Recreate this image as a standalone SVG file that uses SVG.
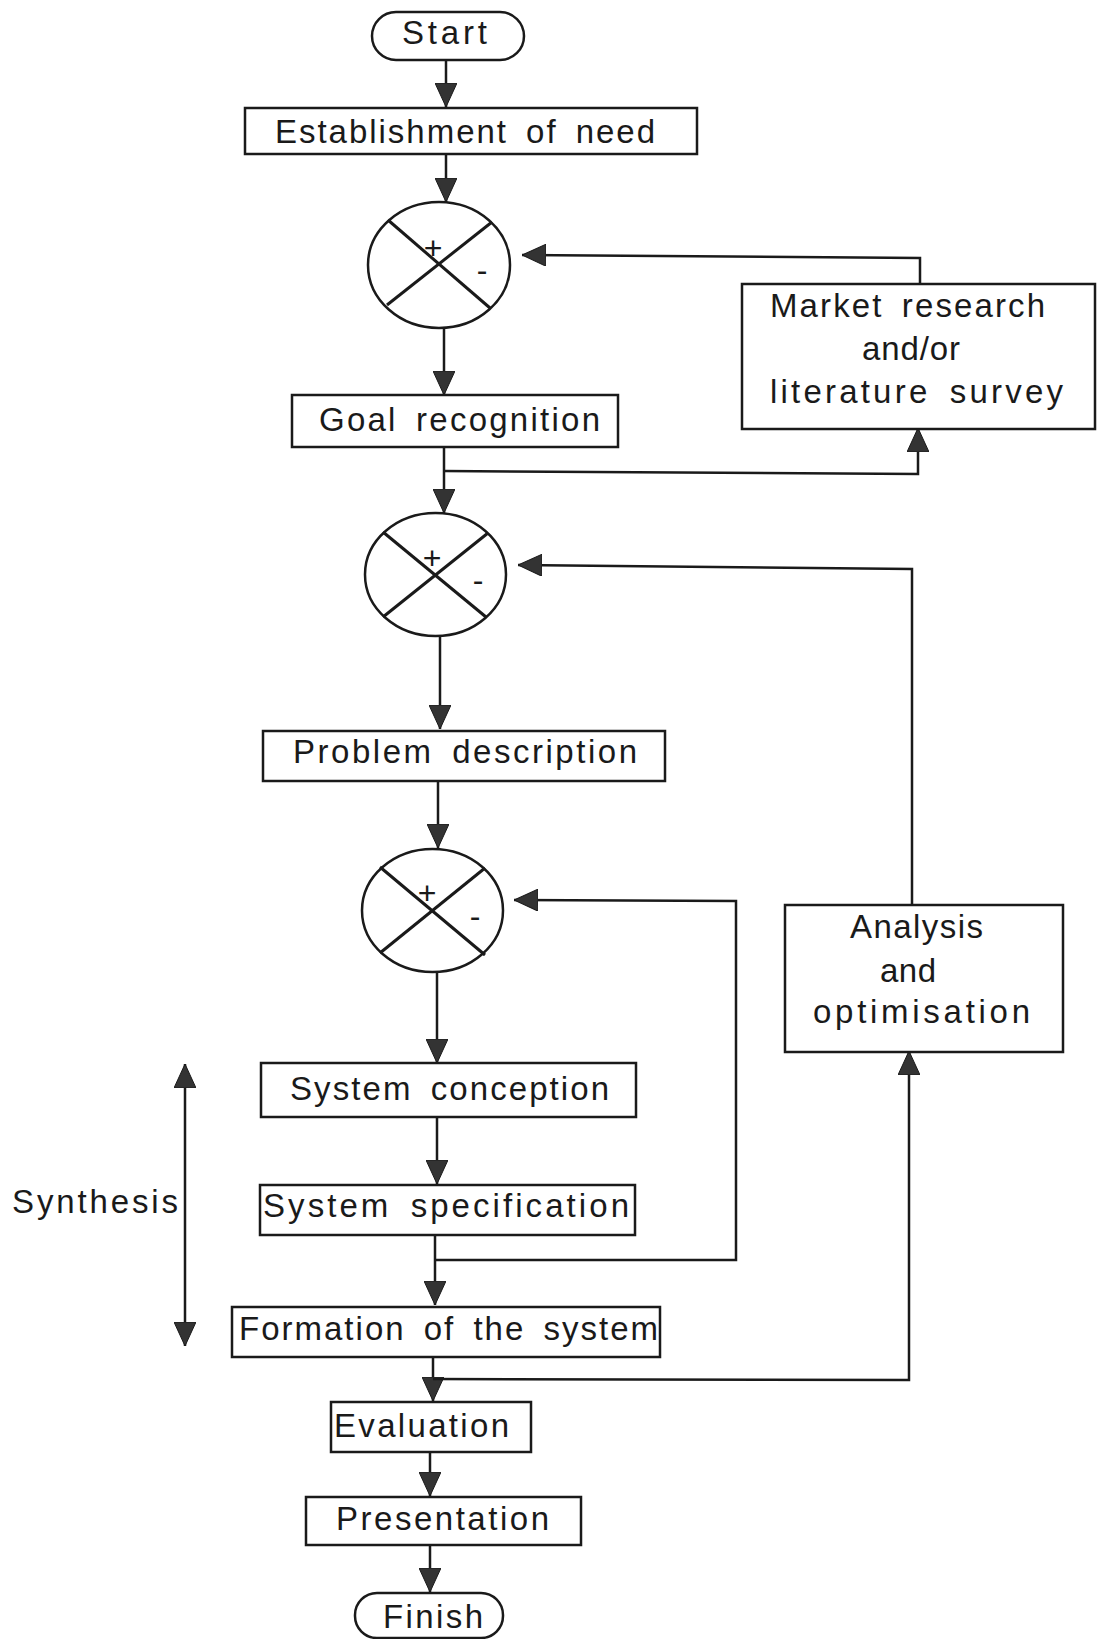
<svg xmlns="http://www.w3.org/2000/svg" width="1097" height="1639" viewBox="0 0 1097 1639">
  <defs>
    <style>
      .box { fill: #ffffff; stroke: #1a1a1a; stroke-width: 2.5; }
      .sum { fill: #ffffff; stroke: #1a1a1a; stroke-width: 2.5; }
      .cross { stroke: #1a1a1a; stroke-width: 3; }
      .wire { fill: none; stroke: #1a1a1a; stroke-width: 2.5; }
      .arrow { fill: none; stroke: #1a1a1a; stroke-width: 2.5; marker-end: url(#head); }
      .lbl { font-family: "Liberation Sans", Arial, Helvetica, sans-serif; font-size: 33px; fill: #1a1a1a; word-spacing: 7px; }
      .sign { font-family: "Liberation Sans", Arial, sans-serif; font-size: 32px; fill: #1a1a1a; text-anchor: middle; }
    </style>
    <marker id="head" viewBox="0 0 24 22" refX="24" refY="11" markerWidth="24" markerHeight="22" markerUnits="userSpaceOnUse" orient="auto-start-reverse">
      <path d="M0,0 L24,11 L0,22 Z" fill="#333333" stroke="#1a1a1a" stroke-width="1"/>
    </marker>
  </defs>

  <rect width="1097" height="1639" fill="#ffffff"/>

  <!-- connectors -->
  <g id="connectors">
    <path class="arrow" d="M446,60 V107"/>
    <path class="arrow" d="M446,154 V202"/>
    <path class="arrow" d="M444,328 V395"/>
    <path class="arrow" d="M444,447 V513"/>
    <path class="arrow" d="M440,636 V729"/>
    <path class="arrow" d="M438,781 V848"/>
    <path class="arrow" d="M437,972 V1063"/>
    <path class="arrow" d="M437,1117 V1184"/>
    <path class="arrow" d="M435,1235 V1305"/>
    <path class="arrow" d="M433,1357 V1401"/>
    <path class="arrow" d="M430,1452 V1496"/>
    <path class="arrow" d="M430,1545 V1592"/>

    <!-- goal recognition branch up to the survey box -->
    <path class="arrow" d="M444,471 L918,474 V428"/>
    <!-- survey result back into the first comparator -->
    <path class="arrow" d="M920,284 V258 L522,255"/>
    <!-- analysis result back into the second comparator -->
    <path class="arrow" d="M912,905 V569 L518,565"/>
    <!-- specification loop back into the third comparator -->
    <path class="arrow" d="M435,1260 H736 V901 L514,900"/>
    <!-- formation branch up to the analysis box -->
    <path class="arrow" d="M433,1379 L909,1380 V1051"/>

    <!-- synthesis span -->
    <path class="wire" d="M185,1064 V1346" marker-start="url(#head)" marker-end="url(#head)"/>
  </g>

  <!-- terminals -->
  <g id="start">
    <rect class="box" x="372" y="12" width="152" height="48" rx="24"/>
    <text class="lbl" x="402" y="44" font-size="31" textLength="85" lengthAdjust="spacing">Start</text>
  </g>
  <g id="finish">
    <rect class="box" x="355" y="1593" width="148" height="45" rx="22"/>
    <text class="lbl" x="383" y="1628" textLength="100" lengthAdjust="spacing">Finish</text>
  </g>

  <!-- process boxes -->
  <g id="need">
    <rect class="box" x="245" y="108" width="452" height="46"/>
    <text class="lbl" x="275" y="143" textLength="380" lengthAdjust="spacing">Establishment of need</text>
  </g>
  <g id="goal">
    <rect class="box" x="292" y="395" width="326" height="52"/>
    <text class="lbl" x="319" y="431" textLength="281" lengthAdjust="spacing">Goal recognition</text>
  </g>
  <g id="survey">
    <rect class="box" x="742" y="284" width="353" height="145"/>
    <text class="lbl" x="770" y="317" textLength="275" lengthAdjust="spacing">Market research</text>
    <text class="lbl" x="862" y="360" textLength="98" lengthAdjust="spacing">and/or</text>
    <text class="lbl" x="770" y="403" textLength="293" lengthAdjust="spacing">literature survey</text>
  </g>
  <g id="problem">
    <rect class="box" x="263" y="731" width="402" height="50"/>
    <text class="lbl" x="293" y="763" textLength="344" lengthAdjust="spacing">Problem description</text>
  </g>
  <g id="analysis">
    <rect class="box" x="785" y="905" width="278" height="147"/>
    <text class="lbl" x="850" y="938" textLength="133" lengthAdjust="spacing">Analysis</text>
    <text class="lbl" x="880" y="982" textLength="56" lengthAdjust="spacing">and</text>
    <text class="lbl" x="813" y="1023" textLength="217" lengthAdjust="spacing">optimisation</text>
  </g>
  <g id="conception">
    <rect class="box" x="261" y="1063" width="375" height="54"/>
    <text class="lbl" x="290" y="1100" textLength="319" lengthAdjust="spacing">System conception</text>
  </g>
  <g id="specification">
    <rect class="box" x="260" y="1185" width="375" height="50"/>
    <text class="lbl" x="263" y="1217" textLength="366" lengthAdjust="spacing">System specification</text>
  </g>
  <g id="formation">
    <rect class="box" x="232" y="1307" width="428" height="50"/>
    <text class="lbl" x="239" y="1340" textLength="419" lengthAdjust="spacing">Formation of the system</text>
  </g>
  <g id="evaluation">
    <rect class="box" x="331" y="1402" width="200" height="50"/>
    <text class="lbl" x="334" y="1437" textLength="175" lengthAdjust="spacing">Evaluation</text>
  </g>
  <g id="presentation">
    <rect class="box" x="306" y="1497" width="275" height="48"/>
    <text class="lbl" x="336" y="1530" textLength="213" lengthAdjust="spacing">Presentation</text>
  </g>

  <!-- comparators -->
  <g id="compare-1">
    <ellipse class="sum" cx="439" cy="265" rx="71" ry="63"/>
    <line class="cross" x1="388" y1="220" x2="490" y2="308"/>
    <line class="cross" x1="492" y1="222" x2="387" y2="305"/>
    <text class="sign" x="433" y="259">+</text>
    <text class="sign" x="482" y="281">-</text>
  </g>
  <g id="compare-2">
    <ellipse class="sum" cx="435.5" cy="574.5" rx="70.5" ry="61.5"/>
    <line class="cross" x1="383" y1="532" x2="486" y2="617"/>
    <line class="cross" x1="488" y1="533" x2="383" y2="617"/>
    <text class="sign" x="432" y="569">+</text>
    <text class="sign" x="478" y="591">-</text>
  </g>
  <g id="compare-3">
    <ellipse class="sum" cx="432.5" cy="910.5" rx="70.5" ry="61.5"/>
    <line class="cross" x1="380" y1="867" x2="485" y2="955"/>
    <line class="cross" x1="485" y1="868" x2="380" y2="953"/>
    <text class="sign" x="427" y="904">+</text>
    <text class="sign" x="475" y="927">-</text>
  </g>

  <!-- side label -->
  <g id="synthesis">
    <text class="lbl" x="12" y="1213" textLength="166" lengthAdjust="spacing">Synthesis</text>
  </g>
</svg>
